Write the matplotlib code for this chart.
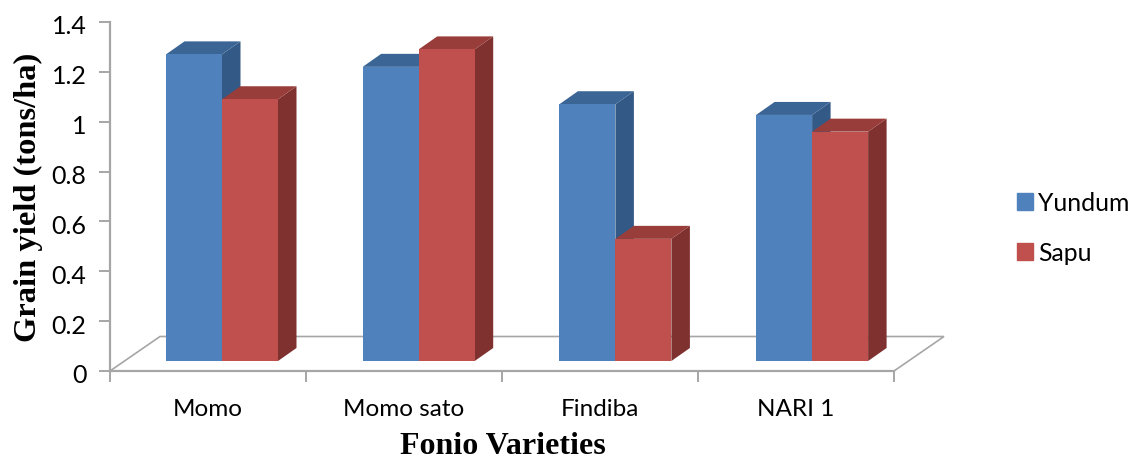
import matplotlib
matplotlib.use("Agg")
import matplotlib.pyplot as plt
from matplotlib.patches import Patch, Polygon
from matplotlib.transforms import ScaledTranslation

varieties = ["Momo", "Momo sato", "Findiba", "NARI 1"]
yundum = [1.23, 1.18, 1.03, 0.987]
sapu = [1.05, 1.25, 0.49, 0.92]
y_ticks = [0, 0.2, 0.4, 0.6, 0.8, 1, 1.2, 1.4]
y_tick_labels = ["0", "0.2", "0.4", "0.6", "0.8", "1", "1.2", "1.4"]

W, H = 1130, 460
AX_LEFT, AX_RIGHT, AX_TOP, AX_BOTTOM = 110, 894, 23, 372

# pixel sizes turned into data units for the fake 3D look
PX_X = 4 / (AX_RIGHT - AX_LEFT)
PX_Y = 1.4 / (AX_BOTTOM - AX_TOP)
BASE = 10 * PX_Y
BAR_W = 56 * PX_X
BAR_STEP = 196.7 * PX_X
DEPTH_X = 18.5 * PX_X
DEPTH_Y = 13 * PX_Y
FLOOR_X = 50 * PX_X
FLOOR_Y = 34.5 * PX_Y
GREY = "#a6a6a6"
SANS = "Lato"
SERIF = "Liberation Serif"


def draw_bar(ax, left, value, front, top, side):
    """
    One 3D looking bar: side and top faces first, then the front.
    """
    right = left + BAR_W
    peak = BASE + value
    ax.add_patch(Polygon([(right, BASE), (right + DEPTH_X, BASE + DEPTH_Y),
                          (right + DEPTH_X, peak + DEPTH_Y), (right, peak)],
                         facecolor=side, edgecolor="none", clip_on=False, zorder=3))
    ax.add_patch(Polygon([(left, peak), (left + DEPTH_X, peak + DEPTH_Y),
                          (right + DEPTH_X, peak + DEPTH_Y), (right, peak)],
                         facecolor=top, edgecolor="none", clip_on=False, zorder=3))
    ax.bar(left, value, BAR_W, bottom=BASE, align="edge", color=front, zorder=3)


fig = plt.figure(figsize=(W / 100, H / 100), dpi=100)
ax = fig.add_axes([AX_LEFT / W, 1 - AX_BOTTOM / H,
                   (AX_RIGHT - AX_LEFT) / W, (AX_BOTTOM - AX_TOP) / H])
ax.set_xlim(0, 4)
ax.set_ylim(0, 1.4)

# floor of the 3D chart
ax.add_patch(Polygon([(0, 0), (FLOOR_X, FLOOR_Y), (4 + FLOOR_X, FLOOR_Y), (4, 0)],
                     closed=False, fill=False, edgecolor=GREY, linewidth=1.2,
                     clip_on=False, zorder=1))

for i in range(len(varieties)):
    left = 56 * PX_X + i * BAR_STEP
    draw_bar(ax, left, yundum[i], "#4f81bd", "#3a6595", "#335a87")
    draw_bar(ax, left + BAR_W, sapu[i], "#c0504d", "#983d3a", "#7f3130")

for name in ["top", "right"]:
    ax.spines[name].set_visible(False)
for name in ["left", "bottom"]:
    ax.spines[name].set_color(GREY)
    ax.spines[name].set_linewidth(1.6)

ax.set_yticks(y_ticks)
ax.set_yticklabels(y_tick_labels, family=SANS, fontsize=18, color="black")
ax.set_xticks(range(5))
ax.set_xticklabels([""] * 5)
ax.tick_params(axis="both", length=8, width=1.4, color=GREY)
ax.tick_params(axis="y", pad=9)

# the y labels sit slightly under their ticks in the original
nudge = ScaledTranslation(0, -2 / 100, fig.dpi_scale_trans)
for label in ax.get_yticklabels():
    label.set_transform(label.get_transform() + nudge)

for i, name in enumerate(varieties):
    ax.text(i + 0.5, -0.15, name, ha="center", va="center", family=SANS, fontsize=17.5)

fig.text(503 / W, 1 - 447 / H, "Fonio Varieties", ha="center", va="center",
         family=SERIF, fontweight="bold", fontsize=23)
fig.text(28 / W, 1 - 197 / H, "Grain yield (tons/ha)", rotation=90, ha="center", va="center",
         family=SERIF, fontweight="bold", fontsize=23.4)

handles = [Patch(color="#4f81bd", label="Yundum"), Patch(color="#c0504d", label="Sapu")]
fig.legend(handles=handles, loc="center left", bbox_to_anchor=(1017 / W, 1 - 228.75 / H),
           frameon=False, handlelength=0.65, handleheight=0.65, handletextpad=0.2,
           labelspacing=1.08, borderpad=0, borderaxespad=0,
           prop={"family": SANS, "size": 17.8})

fig.savefig("out.png", dpi=100)
